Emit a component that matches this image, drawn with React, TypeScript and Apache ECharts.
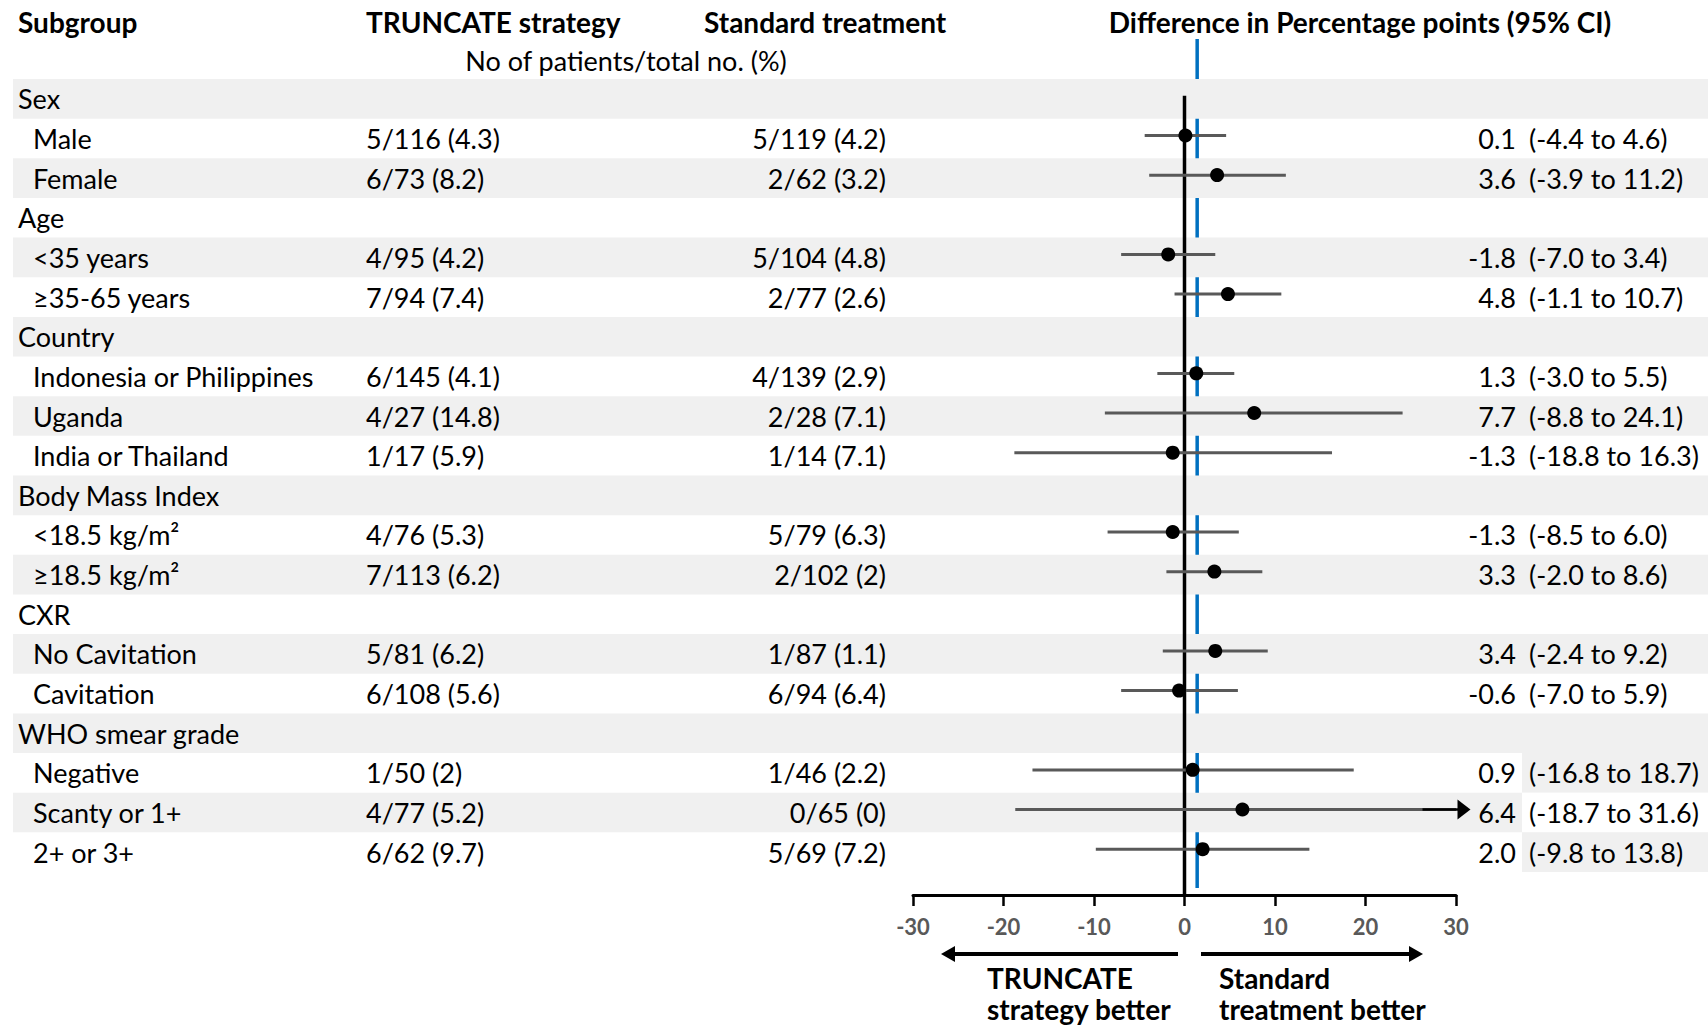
import React, { useEffect, useRef } from "react";
import * as echarts from "echarts";

// ---------- data ----------
const subgroups = [
  "Sex", "Male", "Female",
  "Age", "<35 years", "≥35-65 years",
  "Country", "Indonesia or Philippines", "Uganda", "India or Thailand",
  "Body Mass Index", "<18.5 kg/m²", "≥18.5 kg/m²",
  "CXR", "No Cavitation", "Cavitation",
  "WHO smear grade", "Negative", "Scanty or 1+", "2+ or 3+",
];
const headerRows = [0, 3, 6, 10, 13, 16];
const truncateCol = [
  "", "5/116 (4.3)", "6/73 (8.2)",
  "", "4/95 (4.2)", "7/94 (7.4)",
  "", "6/145 (4.1)", "4/27 (14.8)", "1/17 (5.9)",
  "", "4/76 (5.3)", "7/113 (6.2)",
  "", "5/81 (6.2)", "6/108 (5.6)",
  "", "1/50 (2)", "4/77 (5.2)", "6/62 (9.7)",
];
const standardCol = [
  "", "5/119 (4.2)", "2/62 (3.2)",
  "", "5/104 (4.8)", "2/77 (2.6)",
  "", "4/139 (2.9)", "2/28 (7.1)", "1/14 (7.1)",
  "", "5/79 (6.3)", "2/102 (2)",
  "", "1/87 (1.1)", "6/94 (6.4)",
  "", "1/46 (2.2)", "0/65 (0)", "5/69 (7.2)",
];
const estimate = [null, 0.1, 3.6, null, -1.8, 4.8, null, 1.3, 7.7, -1.3, null, -1.3, 3.3, null, 3.4, -0.6, null, 0.9, 6.4, 2.0];
const ciLower = [null, -4.4, -3.9, null, -7.0, -1.1, null, -3.0, -8.8, -18.8, null, -8.5, -2.0, null, -2.4, -7.0, null, -16.8, -18.7, -9.8];
const ciUpper = [null, 4.6, 11.2, null, 3.4, 10.7, null, 5.5, 24.1, 16.3, null, 6.0, 8.6, null, 9.2, 5.9, null, 18.7, 31.6, 13.8];
const overallDiff = 1.4;
const xMin = -30;
const xMax = 30;
const xInterval = 10;
const ciCellInvertedRows = [17, 18, 19];

// ---------- style / layout ----------
const FONT = "Lato";
const FS = 27;
const FS_BOLD = 28;
const GRID_LEFT = 913;
const GRID_RIGHT_X = 1456;
const GRID_TOP = 79;
const GRID_BOTTOM_Y = 872;
const AXIS_OFFSET = 23;
const BAND = "#f0f0f0";
const CI_COLOR = "#595959";
const BLUE = "#0070c0";

const estLabels = estimate.map((v) => (v == null ? "" : v.toFixed(1)));
const ciLabels = ciLower.map((v, i) =>
  v == null ? "" : `(${v.toFixed(1)} to ${(ciUpper[i] as number).toFixed(1)})`
);

function labelAxis(position: string, align: string, margin: number, texts: string[] | null) {
  return {
    type: "category",
    data: subgroups,
    inverse: true,
    position,
    offset: 0,
    z: 10,
    axisLine: { show: false },
    axisTick: { show: false },
    splitLine: { show: false },
    axisLabel: {
      interval: 0,
      align,
      margin,
      fontFamily: FONT,
      fontSize: FS,
      color: "#000",
      formatter: texts
        ? (_v: string, i: number) => texts[i]
        : (v: string, i: number) => (headerRows.includes(i) ? v : `{sub|${v}}`),
      rich: {
        sub: { fontFamily: FONT, fontSize: FS, color: "#000", padding: [0, 0, 0, 15] },
      },
    },
  };
}

function buildOption() {
  const rows = subgroups.map((_, i) => [0, i]);
  const ciData = estimate
    .map((e, i) => (e == null ? null : [ciLower[i], ciUpper[i], e, i]))
    .filter((d) => d != null);

  const txt = (text: string, x: number, y: number, bold: boolean, align = "left") => ({
    type: "text",
    x,
    y,
    z: 20,
    style: {
      text,
      fontFamily: FONT,
      fontSize: bold ? FS_BOLD : FS,
      fontWeight: bold ? "bold" : "normal",
      fill: "#000",
      align,
      verticalAlign: "middle",
    },
  });

  return {
    animation: false,
    backgroundColor: "#fff",
    grid: {
      left: GRID_LEFT,
      right: 1708 - GRID_RIGHT_X,
      top: GRID_TOP,
      height: GRID_BOTTOM_Y - GRID_TOP,
      containLabel: false,
    },
    xAxis: {
      type: "value",
      min: xMin,
      max: xMax,
      interval: xInterval,
      offset: AXIS_OFFSET,
      z: 10,
      axisLine: { show: true, onZero: false, lineStyle: { color: "#000", width: 3 } },
      axisTick: { show: true, length: 11, lineStyle: { color: "#000", width: 2.5 } },
      splitLine: { show: false },
      axisLabel: {
        margin: 20,
        fontFamily: FONT,
        fontSize: 22,
        fontWeight: "bold",
        color: "#595959",
      },
    },
    yAxis: [
      labelAxis("left", "left", GRID_LEFT - 18, null),
      labelAxis("left", "left", GRID_LEFT - 366, truncateCol),
      labelAxis("left", "right", GRID_LEFT - 886, standardCol),
      labelAxis("right", "right", 1516 - GRID_RIGHT_X, estLabels),
      labelAxis("right", "left", 1529 - GRID_RIGHT_X, ciLabels),
    ],
    series: [
      {
        name: "overall",
        type: "custom",
        z: 1,
        clip: false,
        data: [[overallDiff, 0]],
        encode: { x: 0, y: 1 },
        renderItem: (params: any, api: any) => {
          const x = api.coord([api.value(0), 0])[0];
          const cs = params.coordSys;
          return {
            type: "line",
            shape: { x1: x, y1: 39, x2: x, y2: cs.y + cs.height + AXIS_OFFSET - 7 },
            style: { stroke: BLUE, lineWidth: 3.5 },
          };
        },
      },
      {
        name: "bands",
        type: "custom",
        z: 2,
        clip: false,
        data: rows,
        encode: { x: 0, y: 1 },
        renderItem: (_params: any, api: any) => {
          const i = api.value(1);
          const cy = api.coord([0, i])[1];
          const h = api.size([0, 1])[1];
          const gray = i % 2 === 0;
          const children: any[] = [];
          if (gray) {
            children.push({
              type: "rect",
              shape: { x: 13, y: cy - h / 2, width: 1708 - 13, height: h },
              style: { fill: BAND },
            });
          }
          if (ciCellInvertedRows.includes(i)) {
            children.push({
              type: "rect",
              shape: { x: 1522, y: cy - h / 2, width: 1708 - 1522, height: h },
              style: { fill: gray ? "#fff" : BAND },
            });
          }
          return { type: "group", children };
        },
      },
      {
        name: "zero",
        type: "custom",
        z: 3,
        clip: false,
        data: [[0, 0]],
        encode: { x: 0, y: 1 },
        renderItem: (params: any, api: any) => {
          const p = api.coord([0, 0]);
          const cs = params.coordSys;
          return {
            type: "line",
            shape: { x1: p[0], y1: p[1] - 3, x2: p[0], y2: cs.y + cs.height + AXIS_OFFSET },
            style: { stroke: "#000", lineWidth: 3.5 },
          };
        },
      },
      {
        name: "difference",
        type: "custom",
        z: 4,
        clip: false,
        data: ciData,
        encode: { x: [0, 1, 2], y: 3 },
        renderItem: (_params: any, api: any) => {
          const lo = api.value(0);
          const hi = api.value(1);
          const est = api.value(2);
          const i = api.value(3);
          const pLo = api.coord([lo, i]);
          const pHiClip = api.coord([Math.min(hi, xMax), i]);
          const pEst = api.coord([est, i]);
          const y = pEst[1] - 3;
          const children: any[] = [
            {
              type: "line",
              shape: { x1: pLo[0], y1: y, x2: pHiClip[0], y2: y },
              style: { stroke: CI_COLOR, lineWidth: 3 },
            },
          ];
          if (hi > xMax) {
            const pHi = api.coord([hi, i]);
            const pStart = api.coord([hi - 5.3, i]);
            children.push({
              type: "line",
              shape: { x1: pStart[0], y1: y, x2: pHi[0] - 12, y2: y },
              style: { stroke: "#000", lineWidth: 2.5 },
            });
            children.push({
              type: "polygon",
              shape: { points: [[pHi[0] - 13, y - 10], [pHi[0], y], [pHi[0] - 13, y + 10]] },
              style: { fill: "#000" },
            });
          }
          children.push({
            type: "circle",
            shape: { cx: pEst[0], cy: y, r: 7 },
            style: { fill: "#000" },
          });
          return { type: "group", children };
        },
      },
    ],
    graphic: [
      txt("Subgroup", 18, 22, true),
      txt("TRUNCATE strategy", 366, 22, true),
      txt("Standard treatment", 704, 22, true),
      txt("Difference in Percentage points (95% CI)", 1360, 22, true, "center"),
      txt("No of patients/total no. (%)", 626, 60, false, "center"),
      {
        type: "line",
        z: 20,
        shape: { x1: 1178, y1: 954, x2: 952, y2: 954 },
        style: { stroke: "#000", lineWidth: 4 },
      },
      {
        type: "polygon",
        z: 20,
        shape: { points: [[941, 954], [955, 946], [955, 962]] },
        style: { fill: "#000" },
      },
      {
        type: "line",
        z: 20,
        shape: { x1: 1201, y1: 954, x2: 1412, y2: 954 },
        style: { stroke: "#000", lineWidth: 4 },
      },
      {
        type: "polygon",
        z: 20,
        shape: { points: [[1423, 954], [1409, 946], [1409, 962]] },
        style: { fill: "#000" },
      },
      txt("TRUNCATE", 987, 978, true),
      txt("strategy better", 987, 1009, true),
      txt("Standard", 1219, 978, true),
      txt("treatment better", 1219, 1009, true),
    ],
  };
}

export default function App() {
  const ref = useRef<HTMLDivElement>(null);
  useEffect(() => {
    if (!ref.current) return;
    const chart = echarts.init(ref.current, null, { renderer: "svg" });
    chart.setOption(buildOption() as any);
    return () => chart.dispose();
  }, []);
  return (
    <div
      ref={ref}
      style={{ position: "absolute", left: 0, top: 0, width: 1708, height: 1027, background: "#fff" }}
    />
  );
}
